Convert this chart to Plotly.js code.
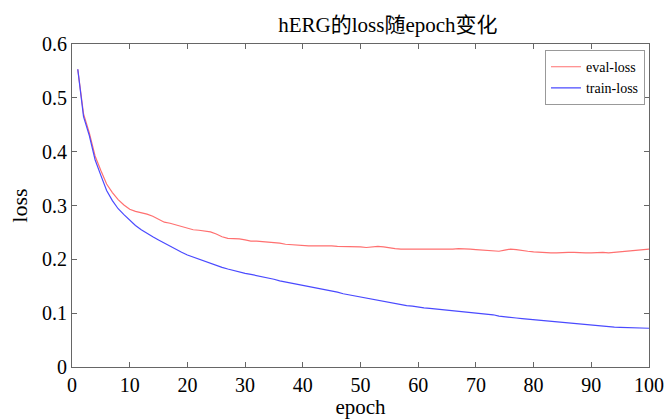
<!DOCTYPE html>
<html>
<head>
<meta charset="utf-8">
<script src="https://cdn.plot.ly/plotly-3.0.1.min.js"></script>
<style>html,body{margin:0;padding:0;background:#fff;}#chart{width:670px;height:419px;}</style>
</head>
<body>
<div id="chart"></div>
<script>
const epochs = [];
for (let i = 1; i <= 100; i++) epochs.push(i);

const evalLoss = [
  0.553, 0.470, 0.435, 0.392, 0.365, 0.340, 0.324, 0.311, 0.301, 0.293,
  0.289, 0.287, 0.284, 0.280, 0.274, 0.269, 0.267, 0.264, 0.260, 0.257,
  0.255, 0.254, 0.253, 0.251, 0.247, 0.242, 0.239, 0.239, 0.238, 0.236,
  0.234, 0.234, 0.233, 0.233, 0.232, 0.230, 0.228, 0.227, 0.226, 0.226,
  0.225, 0.225, 0.225, 0.226, 0.225, 0.224, 0.224, 0.224, 0.224, 0.223,
  0.222, 0.223, 0.224, 0.223, 0.221, 0.220, 0.219, 0.219, 0.218, 0.218,
  0.218, 0.218, 0.218, 0.218, 0.219, 0.219, 0.220, 0.220, 0.219, 0.218,
  0.217, 0.216, 0.215, 0.215, 0.217, 0.219, 0.218, 0.216, 0.215, 0.214,
  0.213, 0.212, 0.212, 0.212, 0.213, 0.213, 0.213, 0.212, 0.212, 0.212,
  0.213, 0.213, 0.212, 0.213, 0.215, 0.216, 0.216, 0.217, 0.218, 0.219
];

const trainLoss = [
  0.553, 0.465, 0.430, 0.385, 0.356, 0.328, 0.309, 0.294, 0.283, 0.272,
  0.263, 0.255, 0.248, 0.242, 0.236, 0.230, 0.224, 0.218, 0.213, 0.208,
  0.204, 0.200, 0.196, 0.192, 0.189, 0.185, 0.182, 0.179, 0.177, 0.174,
  0.172, 0.170, 0.167, 0.165, 0.163, 0.160, 0.158, 0.156, 0.154, 0.152,
  0.150, 0.148, 0.145, 0.143, 0.141, 0.139, 0.136, 0.134, 0.131, 0.129,
  0.127, 0.125, 0.123, 0.121, 0.119, 0.117, 0.116, 0.114, 0.113, 0.111,
  0.110, 0.109, 0.108, 0.107, 0.105, 0.104, 0.103, 0.102, 0.101, 0.100,
  0.099, 0.098, 0.097, 0.0945, 0.093, 0.092, 0.091, 0.090, 0.089, 0.087,
  0.086, 0.085, 0.084, 0.083, 0.082, 0.081, 0.080, 0.079, 0.078, 0.077,
  0.076, 0.0755, 0.075, 0.074, 0.0735, 0.073, 0.0725, 0.072, 0.0723, 0.072
];

const xTicks = [0, 10, 20, 30, 40, 50, 60, 70, 80, 90, 100];
const yTicks = [0, 0.1, 0.2, 0.3, 0.4, 0.5, 0.6];
const yTickText = ['0', '0.1', '0.2', '0.3', '0.4', '0.5', '0.6'];

const serif = 'Liberation Serif, Times New Roman, Noto Sans CJK SC, serif';

const traces = [
  {x: epochs, y: evalLoss, type: 'scatter', mode: 'lines', name: 'eval-loss',
   line: {color: '#ff7070', width: 1.2}},
  {x: epochs, y: trainLoss, type: 'scatter', mode: 'lines', name: 'train-loss',
   line: {color: '#4a4aff', width: 1.2}}
];

const axisCommon = {
  showgrid: false, zeroline: false, showline: true, linecolor: '#666', linewidth: 1,
  mirror: 'ticks', ticks: 'inside', ticklen: 5, tickcolor: '#666', tickwidth: 1,
  tickfont: {family: serif, size: 20, color: '#000'}
};

const layout = {
  width: 670, height: 419,
  margin: {l: 72, r: 21, t: 44, b: 52},
  paper_bgcolor: '#fff', plot_bgcolor: '#fff',
  title: {text: 'hERG的loss随epoch变化', font: {family: serif, size: 21, color: '#000'},
          x: 0.579, xanchor: 'center', y: 0.94, yanchor: 'middle'},
  xaxis: Object.assign({}, axisCommon, {
    range: [0, 100], tickvals: xTicks, ticktext: xTicks.map(String),
    title: {text: 'epoch', font: {family: serif, size: 21, color: '#000'}, standoff: 5}
  }),
  yaxis: Object.assign({}, axisCommon, {
    range: [0, 0.6], tickvals: yTicks, ticktext: yTickText,
    title: {text: 'loss', font: {family: serif, size: 22, color: '#000'}, standoff: 8}
  }),
  showlegend: true,
  legend: {x: 0.993, y: 0.981, xanchor: 'right', yanchor: 'top',
           bgcolor: '#fff', bordercolor: '#999', borderwidth: 1,
           font: {family: serif, size: 14, color: '#000'},
           itemwidth: 30, tracegroupgap: 0}
};

Plotly.newPlot('chart', traces, layout, {displayModeBar: false, staticPlot: true});
</script>
</body>
</html>
